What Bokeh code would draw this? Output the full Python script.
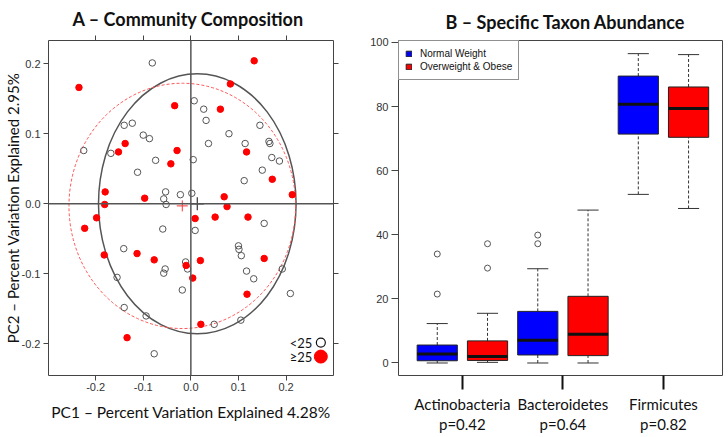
import math
from bokeh.plotting import figure
from bokeh.layouts import row
from bokeh.models import Span, LinearAxis, FixedTicker, Legend, LegendItem, Title
from bokeh.core.properties import value
from bokeh.embed import file_html
from bokeh.resources import INLINE

# ---------------- Data: panel A (PCoA) ----------------
lean_pc1 = [-0.081, 0.007, 0.027, 0.032, -0.140, -0.123, -0.100, -0.087, -0.225, -0.168,
            -0.074, -0.112, 0.005, 0.037, 0.080, 0.114, 0.145, 0.164, 0.166, 0.170,
            0.186, 0.150, 0.112, -0.053, -0.022, 0.002, -0.057, -0.052, -0.059, 0.009,
            0.154, -0.141, 0.100, 0.101, 0.106, -0.011, -0.007, -0.054, -0.057, 0.117,
            0.132, 0.192, -0.155, -0.018, 0.209, -0.140, -0.094, 0.049, 0.105, -0.077]
lean_pc2 = [0.201, 0.147, 0.135, 0.119, 0.112, 0.115, 0.098, 0.093, 0.076, 0.072,
            0.062, 0.045, 0.063, 0.086, 0.100, 0.086, 0.112, 0.089, 0.086, 0.066,
            0.061, 0.048, 0.033, 0.017, 0.013, 0.015, 0.007, -0.001, -0.036, -0.038,
            -0.028, -0.064, -0.060, -0.065, -0.074, -0.083, -0.093, -0.093, -0.099, -0.096,
            -0.107, -0.093, -0.105, -0.123, -0.128, -0.148, -0.160, -0.172, -0.166, -0.214]
obese_pc1 = [-0.235, 0.133, 0.083, -0.034, 0.062, -0.138, -0.152, -0.029, -0.042, 0.117,
             0.171, -0.180, -0.181, -0.097, 0.070, 0.076, 0.213, -0.198, -0.223, 0.009,
             0.051, 0.120, -0.182, -0.113, -0.077, 0.020, -0.010, 0.004, 0.154, 0.118,
             0.021, -0.134]
obese_pc2 = [0.166, 0.204, 0.171, 0.140, 0.135, 0.086, 0.074, 0.076, 0.057, 0.074,
             0.035, 0.017, -0.001, 0.008, 0.010, -0.004, 0.013, -0.020, -0.035, -0.021,
             -0.019, -0.019, -0.073, -0.071, -0.080, -0.081, -0.088, -0.106, -0.078, -0.129,
             -0.172, -0.191]
# group centroids and ellipses: [<25, >=25]
centroid_x = [0.0135, -0.018]
centroid_y = [0.0, -0.003]
ellipse_w = [0.415, 0.476]
ellipse_h = [0.371, 0.350]
pc_ticks = [-0.2, -0.1, 0.0, 0.1, 0.2]
pc_tick_labels = ["-0.2", "-0.1", "0.0", "0.1", "0.2"]
legend_a_labels = ["<25", "\u226525"]

# ---------------- Data: panel B (box plots) ----------------
phyla = ["Actinobacteria", "Bacteroidetes", "Firmicutes"]
p_values = ["p=0.42", "p=0.64", "p=0.82"]
normal_lo = [0.0, 0.0, 52.6]
normal_q1 = [0.7, 2.5, 71.4]
normal_med = [2.8, 7.1, 80.7]
normal_q3 = [5.6, 16.1, 89.5]
normal_hi = [12.3, 29.4, 96.5]
obese_lo = [0.2, 0.0, 48.2]
obese_q1 = [0.8, 2.3, 70.4]
obese_med = [2.0, 9.0, 79.4]
obese_q3 = [6.9, 20.8, 86.1]
obese_hi = [15.5, 47.7, 96.2]
normal_out_group = [0, 0, 1, 1]
normal_out_val = [21.5, 34.0, 37.2, 39.9]
obese_out_group = [0, 0]
obese_out_val = [29.6, 37.2]
abund_ticks = [0, 20, 40, 60, 80, 100]

FONT = "Lato"
TICKF = "Liberation Sans"
FRAME = "#444444"


def style_axis(ax, tick_out=5, standoff=4):
    ax.axis_line_color = None
    ax.major_tick_line_color = FRAME
    ax.major_tick_out = tick_out
    ax.major_tick_in = 0
    ax.minor_tick_line_color = None
    ax.major_label_standoff = standoff
    ax.major_label_text_font = TICKF
    ax.major_label_text_color = "#333333"
    ax.major_label_text_font_size = "11px"


def blank_axis(ticks):
    ax = LinearAxis(ticker=FixedTicker(ticks=ticks))
    style_axis(ax, standoff=0)
    ax.major_label_overrides = {t: "" for t in ticks}
    ax.major_label_text_font_size = "1px"
    return ax


# ================= Panel A =================
p1 = figure(width=364, height=437, x_range=(-0.299, 0.2996), y_range=(-0.245, 0.233),
            output_backend="svg", toolbar_location=None,
            min_border_left=46, min_border_right=31, min_border_top=40, min_border_bottom=59)
p1.grid.visible = False
p1.outline_line_color = FRAME
p1.outline_line_width = 1
over = {t: s for t, s in zip(pc_ticks, pc_tick_labels)}
for ax in (p1.xaxis[0], p1.yaxis[0]):
    style_axis(ax)
    ax.ticker = FixedTicker(ticks=pc_ticks)
    ax.major_label_overrides = over
    ax.axis_label_text_font = FONT
    ax.axis_label_text_font_style = "normal"
    ax.axis_label_text_color = "#111111"
p1.xaxis[0].axis_label = "PC1 \u2013 Percent Variation Explained 4.28%"
p1.xaxis[0].axis_label_text_font_size = "15.5px"
p1.xaxis[0].major_label_standoff = 2
p1.xaxis[0].axis_label_standoff = 9
p1.yaxis[0].axis_label = "PC2 \u2013 Percent Variation Explained 2.95%"
p1.yaxis[0].axis_label_text_font_size = "15px"
p1.yaxis[0].axis_label_standoff = -3
p1.yaxis[0].major_label_standoff = 3
p1.add_layout(blank_axis(pc_ticks), "above")
p1.add_layout(blank_axis(pc_ticks), "right")

p1.title = Title(text="A \u2013 Community Composition", align="left", offset=24, text_font=FONT,
                 text_font_size="18px", text_font_style="bold", text_color="#111111",
                 standoff=8, vertical_align="top")

p1.add_layout(Span(location=0, dimension="height", line_color="#555555", line_width=1.5))
p1.add_layout(Span(location=0, dimension="width", line_color="#555555", line_width=1.5))

p1.ellipse(x=centroid_x[0:1], y=centroid_y[0:1], width=ellipse_w[0:1], height=ellipse_h[0:1],
           fill_color=None, line_color="#555555", line_width=1.5)
p1.ellipse(x=centroid_x[1:2], y=centroid_y[1:2], width=ellipse_w[1:2], height=ellipse_h[1:2],
           fill_color=None, line_color="#FF5555", line_width=1, line_dash="3 2")

p1.scatter(lean_pc1, lean_pc2, marker="circle", size=6.5, fill_color=None,
           line_color="#555555", line_width=1)
p1.scatter(obese_pc1, obese_pc2, marker="circle", size=6.5, fill_color="#FF0000",
           line_color="#FF0000")
p1.scatter(centroid_x[0:1], centroid_y[0:1], marker="cross", size=13, line_color="#333333", line_width=1.2)
p1.scatter(centroid_x[1:2], centroid_y[1:2], marker="cross", size=11, line_color="#FF3333", line_width=1)

# legend (text left of symbol, as in the original)
p1.text(x=[0.255, 0.255], y=[-0.198, -0.218], text=legend_a_labels, text_align="right",
        text_baseline="middle", text_font=value(FONT), text_font_size="13px", text_color="#111111")
p1.scatter([0.273], [-0.198], marker="circle", size=9, fill_color=None, line_color="#111111", line_width=1.2)
p1.scatter([0.273], [-0.218], marker="circle", size=13, fill_color="#FF0000", line_color="#FF0000")

# ================= Panel B =================
p2 = figure(width=364, height=437, x_range=(0.229, 6.675), y_range=(-3.9, 100.6),
            output_backend="svg", toolbar_location=None,
            min_border_left=34, min_border_right=6, min_border_top=37, min_border_bottom=62)
p2.grid.visible = False
p2.outline_line_color = FRAME
p2.outline_line_width = 1

yax = p2.yaxis[0]
style_axis(yax, tick_out=7, standoff=3)
yax.ticker = FixedTicker(ticks=abund_ticks)

mids = [2 * i + 1.5 for i in range(len(phyla))]
xax = p2.xaxis[0]
style_axis(xax, tick_out=14, standoff=5)
xax.ticker = FixedTicker(ticks=mids)
xax.major_label_overrides = {m: name for m, name in zip(mids, phyla)}
xax.major_label_text_font = FONT
xax.major_label_text_font_size = "15px"
xax.major_label_text_color = "#111111"
xax.major_tick_line_width = 2
xax.major_tick_line_color = "#111111"

pax = LinearAxis(ticker=FixedTicker(ticks=mids))
style_axis(pax, tick_out=0, standoff=-1)
pax.major_tick_line_color = None
pax.major_label_overrides = {m: pv for m, pv in zip(mids, p_values)}
pax.major_label_text_font = FONT
pax.major_label_text_font_size = "15px"
pax.major_label_text_color = "#111111"
p2.add_layout(pax, "below")

p2.title = Title(text="B \u2013 Specific Taxon Abundance", align="left", offset=47, text_font=FONT,
                 text_font_size="18px", text_font_style="bold", text_color="#111111",
                 standoff=11, vertical_align="top")

BW = 0.8
CAP = 0.42


def draw_boxes(offset, lo, q1, med, q3, hi, color, out_g, out_v):
    xs = [2 * i + offset for i in range(len(phyla))]
    p2.segment(x0=xs, x1=xs, y0=q3, y1=hi, line_color="#333333", line_dash="3 2", line_width=1)
    p2.segment(x0=xs, x1=xs, y0=lo, y1=q1, line_color="#333333", line_dash="3 2", line_width=1)
    p2.segment(x0=[x - CAP / 2 for x in xs], x1=[x + CAP / 2 for x in xs], y0=hi, y1=hi,
               line_color="#333333", line_width=1)
    p2.segment(x0=[x - CAP / 2 for x in xs], x1=[x + CAP / 2 for x in xs], y0=lo, y1=lo,
               line_color="#333333", line_width=1)
    r = p2.vbar(x=xs, top=q3, bottom=q1, width=BW, fill_color=color, line_color="#222222", line_width=1)
    p2.segment(x0=[x - BW / 2 for x in xs], x1=[x + BW / 2 for x in xs], y0=med, y1=med,
               line_color="#111111", line_width=3)
    p2.scatter([2 * g + offset for g in out_g], out_v, marker="circle", size=6, fill_color=None,
               line_color="#555555", line_width=1)
    return r


rb = draw_boxes(1, normal_lo, normal_q1, normal_med, normal_q3, normal_hi, "#0000FF",
                normal_out_group, normal_out_val)
rr = draw_boxes(2, obese_lo, obese_q1, obese_med, obese_q3, obese_hi, "#FF0000",
                obese_out_group, obese_out_val)

leg = Legend(items=[LegendItem(label="Normal Weight", renderers=[rb]),
                    LegendItem(label="Overweight & Obese", renderers=[rr])],
             location="top_left", margin=0, padding=6, spacing=0, glyph_width=7, glyph_height=7,
             label_height=13, label_standoff=8, label_text_font=TICKF,
             label_text_font_size="10px",
             label_text_color="#111111", border_line_color="#222222", border_line_width=1,
             background_fill_color="white", background_fill_alpha=1)
p2.add_layout(leg)

layout = row(p1, p2, spacing=0)
open("out.html", "w").write(file_html(layout, INLINE))
